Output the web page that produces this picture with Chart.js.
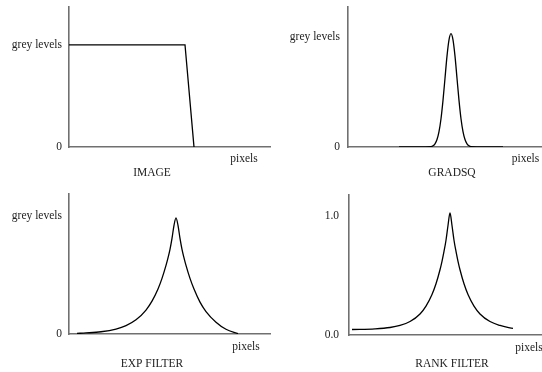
<!DOCTYPE html>
<html>
<head>
<meta charset="utf-8">
<script src="https://cdn.jsdelivr.net/npm/chart.js@4"></script>
<style>
  html, body { margin: 0; padding: 0; background: #fff; overflow: hidden; }
  #wrap { position: relative; width: 542px; height: 372px; overflow: hidden; }
  canvas { position: absolute; }
</style>
</head>
<body>
<div id="wrap">
  <canvas id="c1" width="304" height="186" style="left:0;top:0"></canvas>
  <canvas id="c2" width="362" height="186" style="left:271px;top:0"></canvas>
  <canvas id="c3" width="304" height="186" style="left:0;top:186px"></canvas>
  <canvas id="c4" width="362" height="186" style="left:271px;top:186px"></canvas>
</div>
<script>
// Données (x en pixels le long du profil, y en niveaux de gris normalisés)
const imageX = [0, 116, 125];
const imageY = [1, 1, 0];

const gradX = [51, 83, 85, 87, 89, 91, 93, 95, 97, 99, 101, 103, 105, 107, 109, 111, 113, 115, 117, 119, 121, 123, 155];
const gradY = [0, 0.004, 0.011, 0.029, 0.068, 0.14, 0.257, 0.424, 0.625, 0.826, 0.974, 1.03, 0.974, 0.826, 0.625, 0.424, 0.257, 0.14, 0.068, 0.029, 0.011, 0.004, 0];

const expX = [8, 17, 32, 47, 57, 67, 77, 83, 89, 93, 97, 99, 101, 103, 105, 107, 109, 111, 113, 115, 117, 121, 125, 131, 137, 147, 157, 169];
const expY = [0.005, 0.009, 0.019, 0.042, 0.071, 0.12, 0.203, 0.278, 0.381, 0.471, 0.581, 0.645, 0.717, 0.81, 0.92, 0.983, 0.92, 0.81, 0.717, 0.645, 0.581, 0.471, 0.381, 0.27, 0.19, 0.1, 0.04, 0.003];

const rankX = [3, 26, 41, 51, 61, 71, 77, 83, 87, 91, 93, 95, 97, 99, 101, 103, 105, 107, 109, 111, 115, 119, 125, 131, 141, 151, 164];
const rankY = [0.046, 0.052, 0.063, 0.08, 0.113, 0.177, 0.243, 0.34, 0.43, 0.548, 0.619, 0.702, 0.796, 0.92, 1.025, 0.92, 0.796, 0.702, 0.619, 0.548, 0.43, 0.34, 0.243, 0.177, 0.113, 0.08, 0.055];

// Libellés
const titles = ['IMAGE', 'GRADSQ', 'EXP FILTER', 'RANK FILTER'];
const greyLabels = ['0', 'grey levels'];
const rankLabels = ['0.0', '1.0'];
const yTickValues = [0, 1];
const xAxisLabel = 'pixels';

Chart.defaults.font.family = "'Liberation Serif', 'Times New Roman', serif";
Chart.defaults.font.size = 11.5;
Chart.defaults.color = '#222';

const axisColor = '#707070';

function makePanel(id, opts) {
    const ctx = document.getElementById(id).getContext('2d');
    return new Chart(ctx, {
        type: 'line',
        data: {
            datasets: [{
                data: opts.xs.map((x, i) => ({ x: x, y: opts.ys[i] })),
                borderColor: '#000',
                borderWidth: 1.3,
                pointRadius: 0,
                fill: false,
                tension: 0,
                cubicInterpolationMode: opts.smooth ? 'monotone' : 'default',
                yAxisID: 'y'
            }]
        },
        options: {
            responsive: false,
            animation: false,
            devicePixelRatio: 1,
            layout: { padding: { top: opts.padTop, left: 0, right: 0, bottom: 0 } },
            plugins: {
                legend: { display: false },
                tooltip: { enabled: false },
                title: {
                    display: true,
                    position: 'bottom',
                    text: opts.title,
                    color: '#222',
                    font: { size: 11.5, weight: 'normal', lineHeight: '13px' },
                    padding: { top: 1, bottom: opts.titlePadBottom }
                }
            },
            scales: {
                x: {
                    type: 'linear',
                    min: 0,
                    max: opts.xMax,
                    grid: { display: false, drawTicks: false },
                    border: { display: true, color: axisColor, width: 1.6 },
                    ticks: {
                        padding: opts.xTickPad,
                        maxRotation: 0,
                        autoSkip: false,
                        font: { lineHeight: '13px' },
                        callback: () => xAxisLabel
                    },
                    afterBuildTicks: s => { s.ticks = [{ value: opts.pixelsAt }]; },
                    afterFit: s => {
                        s.height = opts.xHeight;
                        s.paddingLeft = 0;
                        s.paddingRight = 0;
                    }
                },
                y: {
                    type: 'linear',
                    position: 'left',
                    min: 0,
                    max: opts.yMax,
                    grid: { display: false, drawTicks: false },
                    border: { display: true, color: axisColor, width: 1.6 },
                    ticks: {
                        padding: opts.yTickPad,
                        autoSkip: false,
                        callback: (v, i) => opts.yLabels[i]
                    },
                    afterBuildTicks: s => { s.ticks = yTickValues.map(v => ({ value: v })); },
                    afterFit: s => {
                        s.width = opts.yWidth;
                        s.paddingTop = 0;
                        s.paddingBottom = 0;
                    }
                },
                r: {
                    type: 'linear',
                    position: 'right',
                    display: true,
                    grid: { display: false, drawTicks: false },
                    border: { display: false },
                    ticks: { display: false },
                    afterFit: s => {
                        s.width = opts.rightWidth;
                        s.paddingTop = 0;
                        s.paddingBottom = 0;
                    }
                }
            }
        }
    });
}

makePanel('c1', {
    xs: imageX, ys: imageY, smooth: false, title: titles[0],
    padTop: 7, titlePadBottom: 7, xHeight: 18, xTickPad: 5, pixelsAt: 175,
    xMax: 201, yMax: 1.37, yLabels: greyLabels, yTickPad: 7, yWidth: 69, rightWidth: 34
});
makePanel('c2', {
    xs: gradX, ys: gradY, smooth: true, title: titles[1],
    padTop: 7, titlePadBottom: 7, xHeight: 18, xTickPad: 5, pixelsAt: 177.5,
    xMax: 194, yMax: 1.273, yLabels: greyLabels, yTickPad: 8, yWidth: 77, rightWidth: 91
});
makePanel('c3', {
    xs: expX, ys: expY, smooth: true, title: titles[2],
    padTop: 8, titlePadBottom: 1.5, xHeight: 22.5, xTickPad: 6.5, pixelsAt: 177,
    xMax: 201, yMax: 1.186, yLabels: greyLabels, yTickPad: 7, yWidth: 69, rightWidth: 34
});
makePanel('c4', {
    xs: rankX, ys: rankY, smooth: true, title: titles[3],
    padTop: 9, titlePadBottom: 1.5, xHeight: 21.5, xTickPad: 6.5, pixelsAt: 180,
    xMax: 193, yMax: 1.176, yLabels: rankLabels, yTickPad: 10, yWidth: 78, rightWidth: 91
});
</script>
</body>
</html>
